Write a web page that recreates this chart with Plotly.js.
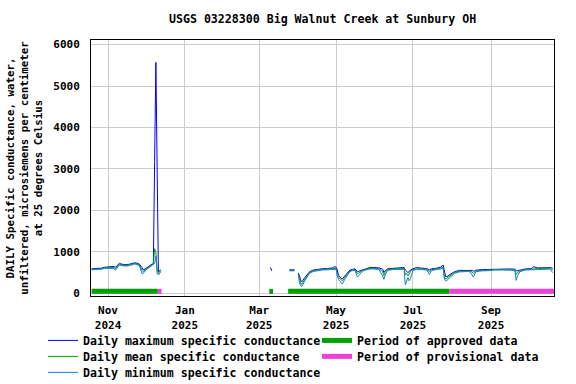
<!DOCTYPE html>
<html>
<head>
<meta charset="utf-8">
<script src="https://cdn.plot.ly/plotly-3.0.1.min.js"></script>
<style>html,body{margin:0;padding:0;background:#fff;}#chart{width:576px;height:384px;}</style>
</head>
<body>
<div id="chart"></div>
<script>
// Daily values (microsiemens per cm at 25 C); null = gap
var dates = [
 '2024-10-19','2024-10-22','2024-10-25','2024-10-27','2024-10-29','2024-11-01','2024-11-03','2024-11-05','2024-11-07','2024-11-09',
 '2024-11-10','2024-11-12','2024-11-15','2024-11-18','2024-11-20','2024-11-22','2024-11-24','2024-11-26','2024-11-28','2024-11-29',
 '2024-12-01','2024-12-03','2024-12-05','2024-12-07','2024-12-08','2024-12-09','2024-12-10','2024-12-11','2024-12-12','2024-12-13',
 '2024-12-14',
 '2025-03-10','2025-03-11','2025-03-12',
 '2025-03-25','2025-03-27','2025-03-29','2025-03-30',
 '2025-04-01','2025-04-02','2025-04-03','2025-04-04','2025-04-06','2025-04-08','2025-04-10','2025-04-13','2025-04-16','2025-04-20',
 '2025-04-24','2025-04-28','2025-04-30','2025-05-01','2025-05-02','2025-05-03','2025-05-05','2025-05-06','2025-05-08','2025-05-10',
 '2025-05-12','2025-05-14','2025-05-16','2025-05-18','2025-05-20','2025-05-22','2025-05-25','2025-05-28','2025-05-31','2025-06-04',
 '2025-06-07','2025-06-08','2025-06-09','2025-06-11','2025-06-15','2025-06-19','2025-06-22','2025-06-24','2025-06-25','2025-06-26',
 '2025-06-27','2025-06-28','2025-06-29','2025-07-01','2025-07-04','2025-07-08','2025-07-12','2025-07-14','2025-07-16','2025-07-20',
 '2025-07-23','2025-07-25','2025-07-26','2025-07-27','2025-07-28','2025-07-31','2025-08-03','2025-08-07','2025-08-11','2025-08-15',
 '2025-08-17','2025-08-18','2025-08-20','2025-08-25','2025-08-31','2025-09-04','2025-09-10','2025-09-16','2025-09-20','2025-09-21',
 '2025-09-22','2025-09-24','2025-09-28','2025-10-03','2025-10-05','2025-10-08','2025-10-12','2025-10-16','2025-10-18','2025-10-20'
];
var meanValues = [
 575,575,585,590,610,615,630,625,600,660,
 700,680,670,680,700,720,705,680,550,520,
 580,620,670,700,1075,1000,560,480,530,540,
 null,
 560,null,null,
 550,550,550,null,
 470,330,230,225,330,420,500,540,560,575,
 580,590,610,600,470,380,330,300,380,470,
 540,560,570,470,510,550,580,600,600,590,
 520,430,500,570,585,590,600,600,450,480,
 420,470,520,570,590,585,575,520,570,585,
 610,620,400,340,360,430,500,530,540,540,
 510,480,540,555,560,570,570,570,560,455,
 500,540,570,580,590,595,600,600,605,560
];
var maxValues = [
 590,590,600,605,625,635,650,645,630,680,
 720,700,690,700,720,735,725,700,620,560,
 600,640,690,720,3150,5570,3050,520,550,560,
 null,
 620,540,null,
 565,565,565,null,
 490,420,300,280,370,450,520,560,575,590,
 595,610,640,630,560,430,370,340,420,500,
 560,575,590,520,540,570,600,620,620,610,
 580,500,540,590,600,610,620,620,560,530,
 500,520,560,590,620,605,595,560,590,605,
 630,680,520,400,400,460,520,550,555,555,
 550,530,555,570,575,585,585,585,580,540,
 540,560,585,595,640,610,615,615,620,600
];
var minValues = [
 565,565,575,580,600,600,615,600,560,640,
 680,665,655,665,685,705,690,660,470,480,
 560,605,655,690,720,900,470,440,500,520,
 null,
 540,null,null,
 540,540,540,null,
 450,250,180,165,290,390,480,525,545,560,
 565,575,595,580,420,330,260,220,340,440,
 520,545,550,390,470,530,565,585,585,575,
 420,335,440,550,570,575,585,580,200,300,
 380,300,350,550,570,570,560,455,550,570,
 590,600,340,300,310,400,480,515,525,525,
 440,390,520,540,545,560,560,560,540,310,
 420,520,560,565,575,580,585,585,580,495
];
// Review status periods [start, end]
var approvedStarts = ['2024-10-19', '2025-03-09', '2025-03-24'];
var approvedEnds   = ['2024-12-10T12:00', '2025-03-12', '2025-07-30'];
var provisionalStarts = ['2024-12-10T12:00', '2025-07-30'];
var provisionalEnds   = ['2024-12-13T12:00', '2025-10-21'];

var BAND_Y = 45;
function periodTrace(starts, ends, name, color, legendId) {
  var x = [], y = [];
  for (var i = 0; i < starts.length; i++) {
    x.push(starts[i], ends[i], null);
    y.push(BAND_Y, BAND_Y, null);
  }
  return {x: x, y: y, name: name, mode: 'lines', type: 'scatter', legend: legendId,
          line: {color: color, width: 5}, hoverinfo: 'skip', connectgaps: false};
}
function seriesTrace(vals, name, color, legendId) {
  return {x: dates, y: vals, name: name, mode: 'lines', type: 'scatter', legend: legendId,
          line: {color: color, width: 1, shape: 'linear'}, connectgaps: false};
}

var FONT = '"DejaVu Sans Mono", monospace';
var traces = [
  periodTrace(approvedStarts, approvedEnds, 'Period of approved data', '#00a000', 'legend4'),
  periodTrace(provisionalStarts, provisionalEnds, 'Period of provisional data', '#f040dc', 'legend5'),
  seriesTrace(maxValues, 'Daily maximum specific conductance', '#0000ff', 'legend'),
  seriesTrace(meanValues, 'Daily mean specific conductance', '#00a000', 'legend2'),
  seriesTrace(minValues, 'Daily minimum specific conductance', '#1f7fc4', 'legend3')
];

var legendFont = {family: FONT, size: 11.6, color: '#000', weight: 'bold'};
// plot area in pixels: left 91, width 463, bottom 296.5, height 256.5
function legendAt(px, py) {
  return {orientation: 'v', x: (px - 91) / 463, xanchor: 'left',
          y: -(py - 296.5) / 256.5, yanchor: 'middle',
          font: legendFont, bgcolor: 'rgba(0,0,0,0)', borderwidth: 0, itemwidth: 30};
}
var layout = {
  width: 576, height: 384,
  margin: {l: 91, r: 22, t: 40, b: 87.5, pad: 0, autoexpand: false},
  paper_bgcolor: '#ffffff', plot_bgcolor: '#ffffff',
  font: {family: FONT, size: 11, color: '#000000', weight: 'bold'},
  title: {text: 'USGS 03228300 Big Walnut Creek at Sunbury OH',
          font: {family: FONT, size: 11.6, color: '#000', weight: 'bold'},
          x: 0.56, xanchor: 'center', y: 0.95, yanchor: 'middle'},
  xaxis: {type: 'date', range: ['2024-10-18T12:00', '2025-10-21T00:00'],
          tick0: '2024-11-01', dtick: 'M2', tickformat: '%b<br>%Y',
          showgrid: true, gridcolor: '#cccccc', gridwidth: 1,
          showline: true, linecolor: '#000', linewidth: 1, mirror: true,
          ticks: '', zeroline: false, ticklabelstandoff: 4,
          tickfont: {family: FONT, size: 11, color: '#000', weight: 'bold'}},
  yaxis: {range: [-67, 6110], tickvals: [0,1000,2000,3000,4000,5000,6000],
          showgrid: true, gridcolor: '#cccccc', gridwidth: 1,
          showline: true, linecolor: '#000', linewidth: 1, mirror: true,
          ticks: '', zeroline: false, ticklabelstandoff: 8,
          tickfont: {family: FONT, size: 11, color: '#000', weight: 'bold'},
          title: {text: 'DAILY Specific conductance, water,<br>unfiltered, microsiemens per centimeter<br>at 25 degrees Celsius',
                  font: {family: FONT, size: 10.8, color: '#000', weight: 'bold'}, standoff: 8}},
  showlegend: true,
  legend:  legendAt(43, 341),
  legend2: legendAt(43, 357),
  legend3: legendAt(43, 373),
  legend4: legendAt(317, 341),
  legend5: legendAt(317, 357)
};

Plotly.newPlot('chart', traces, layout, {staticPlot: true, displayModeBar: false});
</script>
</body>
</html>
